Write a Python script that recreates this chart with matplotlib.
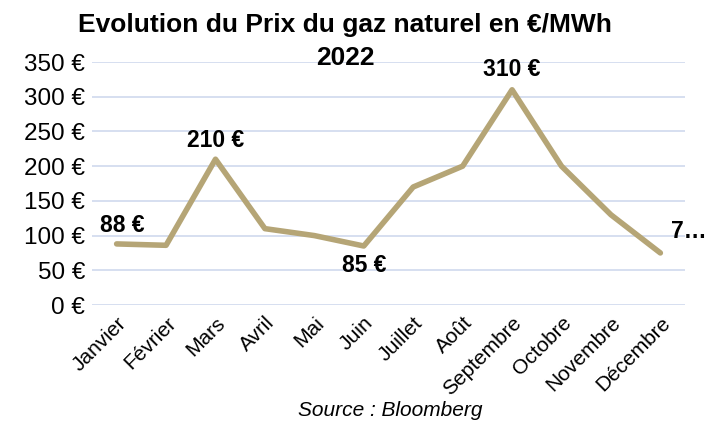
import matplotlib
matplotlib.use("Agg")
import matplotlib.pyplot as plt

months = ["Janvier", "Février", "Mars", "Avril", "Mai", "Juin", "Juillet",
          "Août", "Septembre", "Octobre", "Novembre", "Décembre"]
prices = [88, 86, 210, 110, 100, 85, 170, 200, 310, 200, 130, 75]
yticks = [0, 50, 100, 150, 200, 250, 300, 350]
# labelled points: (index, text)
labels = [(0, "88 €"), (2, "210 €"), (5, "85 €"), (8, "310 €"), (11, "7…")]

plt.rcParams['font.family'] = ['Liberation Sans', 'DejaVu Sans']

line_color = "#B5A576"
grid_color = "#D3DCEF"

fig = plt.figure(figsize=(7.07, 4.21), dpi=100)
ax = fig.add_axes([0.130, 0.2755, 0.839, 0.5772])

x = list(range(len(months)))
ax.plot(x, prices, color=line_color, linewidth=4, solid_capstyle="round",
        solid_joinstyle="round", zorder=3)

ax.set_xlim(-0.5, len(months) - 0.5)
ax.set_ylim(0, 350)
ax.set_yticks(yticks)
ax.set_yticklabels(["{0} €".format(v) for v in yticks], fontsize=17.5)
ax.set_xticks(x)
ax.set_xticklabels(months, rotation=45, ha="right", rotation_mode="anchor",
                   fontsize=15)
ax.tick_params(length=0, pad=5)
ax.tick_params(axis="x", pad=6)
for v in yticks:
    ax.axhline(v, color=grid_color, linewidth=1.3, zorder=1)
for s in ax.spines.values():
    s.set_visible(False)

offsets = {0: (4, 5, "center", "bottom"), 2: (0, 5, "center", "bottom"),
           5: (0, -6, "center", "top"), 8: (0, 6, "center", "bottom"),
           11: (8, 7, "left", "bottom")}
for i, txt in labels:
    dx, dy, ha, va = offsets[i]
    ax.annotate(txt, xy=(i, prices[i]), xytext=(dx, dy),
                textcoords="offset points", ha=ha, va=va,
                fontsize=16.5, fontweight="bold", annotation_clip=False)

fig.text(0.488, 0.941, "Evolution du Prix du gaz naturel en €/MWh",
         ha="center", va="center", fontsize=19, fontweight="bold")
fig.text(0.488, 0.862, "2022", ha="center", va="center", fontsize=19,
         fontweight="bold")
fig.text(0.552, 0.026, "Source : Bloomberg", ha="center", va="center",
         fontsize=15, style="italic")

fig.savefig("out.png", dpi=100)
